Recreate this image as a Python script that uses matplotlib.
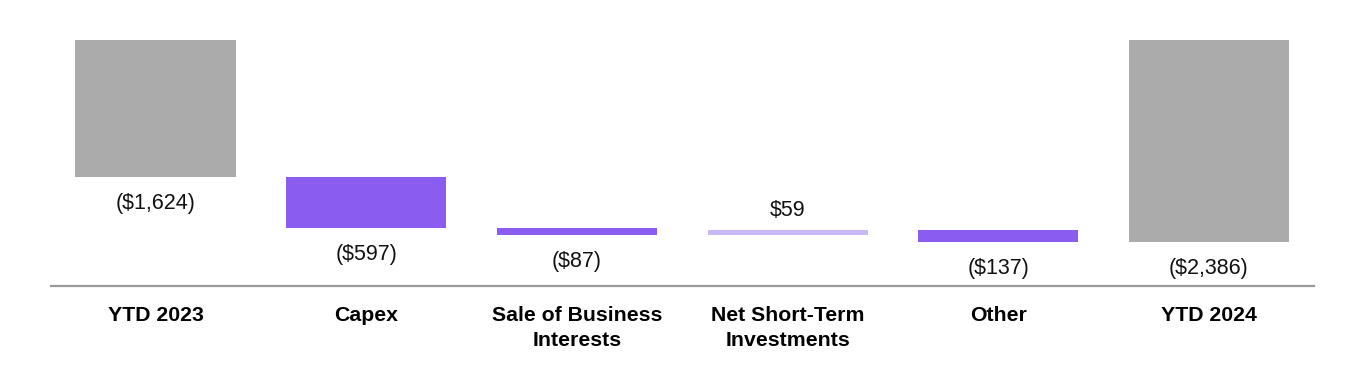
import numpy as np
import matplotlib.pyplot as plt
import matplotlib.transforms as mtransforms

plt.rcParams['font.family'] = ['Liberation Sans', 'DejaVu Sans']

# waterfall data ($ millions)
categories = ["YTD 2023", "Capex", "Sale of Business\nInterests",
              "Net Short-Term\nInvestments", "Other", "YTD 2024"]
start_value = -1624
changes = [-597, -87, 59, -137]
end_value = start_value + sum(changes)  # -2386
value_labels = ["($1,624)", "($597)", "($87)", "$59", "($137)", "($2,386)"]

grey = "#ABABAB"
neg_col = "#8B5CF0"
pos_col = "#C8B8F8"

# build bars: (bottom, height)
bottoms = [0]
heights = [start_value]
running = start_value
for c in changes:
    bottoms.append(running)
    heights.append(c)
    running += c
bottoms.append(0)
heights.append(end_value)

colors = [grey] + [neg_col if c < 0 else pos_col for c in changes] + [grey]

fig = plt.figure(figsize=(13.64, 3.70), dpi=100)
ax = fig.add_axes([0, 0, 1, 1])
x = np.arange(len(categories))

ax.bar(x, heights, bottom=bottoms, width=0.76, color=colors, linewidth=0)

# value labels, below for decreases, above for increases
for i, (b, h, lab) in enumerate(zip(bottoms, heights, value_labels)):
    off = -19 if h < 0 else 14
    ax.annotate(lab, (x[i], b + h), xytext=(0, off), textcoords="offset points",
                ha="center", va="center", fontsize=15.5, color="#111111")

# layout: zero at 40px from top, 0.08466 px per $m
scale = 0.08466
ax.set_xlim(-155.5 / 210.7, (1364 - 155.5) / 210.7)
ax.set_ylim(-(370 - 40) / scale, 40 / scale)
ax.axis("off")

# baseline and category labels
trans = mtransforms.blended_transform_factory(ax.transData, ax.transAxes)
base_y = 1 - 285.5 / 370
ax.plot([-105 / 210.7, (1314 - 155.5) / 210.7], [base_y, base_y],
        transform=trans, color="#999999", lw=1.6, clip_on=False)
for i, cat in enumerate(categories):
    ax.text(x[i], 1 - 306 / 370, cat, transform=trans, ha="center", va="top",
            fontsize=15.3, fontweight="bold", linespacing=1.42)

fig.savefig("out.png", dpi=100)
